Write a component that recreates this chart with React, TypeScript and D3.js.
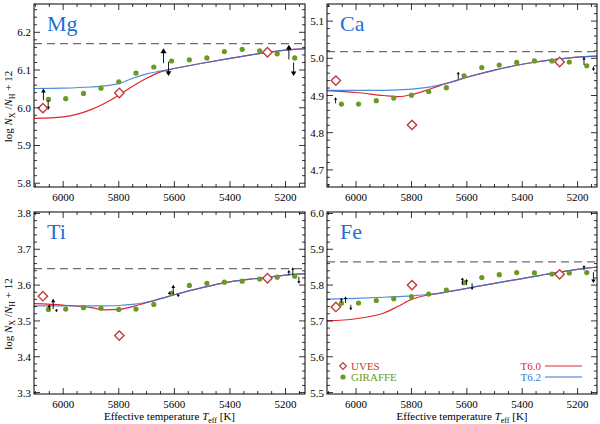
import React, { useEffect, useRef } from "react";
import * as d3 from "d3";

// Teff of the GIRAFFE bins and the three UVES stars
const giraffeTeff = [6053, 5991, 5927, 5864, 5800, 5738, 5674, 5610, 5546, 5483, 5420, 5356, 5293, 5230, 5167];
const uvesTeff = [6073, 5798, 5265];
// model curve sampling (T6.0 / T6.2)
const modelTeff = [6105, 6000, 5900, 5850, 5800, 5750, 5700, 5650, 5600, 5500, 5400, 5300, 5200, 5130];

const mgGiraffe = [6.022, 6.024, 6.038, 6.052, 6.069, 6.092, 6.108, 6.124, 6.127, 6.132, 6.149, 6.155, 6.151, 6.143, 6.132];
const caGiraffe = [4.877, 4.877, 4.886, 4.893, 4.901, 4.911, 4.921, 4.953, 4.975, 4.982, 4.989, 4.993, 4.993, 4.99, 4.98];
const tiGiraffe = [3.532, 3.533, 3.537, 3.535, 3.532, 3.533, 3.546, 3.577, 3.599, 3.605, 3.608, 3.611, 3.617, 3.622, 3.625];
const feGiraffe = [5.749, 5.75, 5.757, 5.762, 5.768, 5.775, 5.786, 5.807, 5.821, 5.829, 5.835, 5.834, 5.831, 5.834, 5.835];

const mgUves = [5.999, 6.039, 6.147];
const caUves = [4.94, 4.821, 4.99];
const tiUves = [3.569, 3.459, 3.619];
const feUves = [5.739, 5.8, 5.83];

const mgT60 = [5.972, 5.976, 5.995, 6.012, 6.033, 6.057, 6.078, 6.095, 6.104, 6.118, 6.131, 6.143, 6.153, 6.157];
const mgT62 = [6.051, 6.052, 6.055, 6.058, 6.064, 6.078, 6.09, 6.097, 6.104, 6.118, 6.131, 6.143, 6.153, 6.157];
const caT60 = [4.913, 4.908, 4.9, 4.897, 4.902, 4.913, 4.926, 4.937, 4.949, 4.968, 4.984, 4.995, 5.003, 5.006];
const caT62 = [4.914, 4.914, 4.914, 4.915, 4.917, 4.921, 4.928, 4.938, 4.949, 4.968, 4.984, 4.995, 5.003, 5.006];
const tiT60 = [3.548, 3.544, 3.537, 3.531, 3.532, 3.54, 3.551, 3.562, 3.573, 3.593, 3.609, 3.619, 3.628, 3.632];
const tiT62 = [3.542, 3.542, 3.542, 3.542, 3.543, 3.546, 3.552, 3.562, 3.573, 3.593, 3.609, 3.619, 3.628, 3.632];
const feT60 = [5.7, 5.706, 5.722, 5.74, 5.76, 5.771, 5.777, 5.784, 5.791, 5.805, 5.818, 5.832, 5.844, 5.85];
const feT62 = [5.761, 5.763, 5.766, 5.768, 5.77, 5.773, 5.777, 5.784, 5.791, 5.805, 5.818, 5.832, 5.844, 5.85];

// initial (solar-like) abundance, dashed
const mgInit = 6.17;
const caInit = 5.018;
const tiInit = 3.646;
const feInit = 5.865;

// arrows: [Teff, from, to]
const mgArrows = [
  [6071, 6.02, 6.051], [6054, 6.02, 5.994],
  [5639, 6.118, 6.158], [5621, 6.122, 6.084],
  [5188, 6.128, 6.167], [5171, 6.12, 6.084],
];
const caArrows = [
  [6074, 4.879, 4.895], [5631, 4.944, 4.964],
  [5177, 4.982, 5.004], [5143, 4.978, 4.966],
];
const tiArrows = [
  [6036, 3.533, 3.562], [6050, 3.533, 3.546], [6024, 3.533, 3.524],
  [5604, 3.574, 3.601], [5618, 3.574, 3.582], [5586, 3.575, 3.566],
  [5174, 3.628, 3.65], [5188, 3.628, 3.642], [5152, 3.623, 3.604],
];
const feArrows = [
  [6053, 5.752, 5.765], [6038, 5.75, 5.768], [6019, 5.745, 5.73],
  [5616, 5.8, 5.821], [5601, 5.8, 5.817], [5581, 5.805, 5.786],
  [5177, 5.841, 5.856], [5143, 5.836, 5.806],
];

const xTicks = [6000, 5800, 5600, 5400, 5200];

const RED = "#e3262d";
const BLUE = "#2f78d8";
const GREEN = "#6b9a22";
const DIAMOND = "#c23b3b";
const FONT = "'Liberation Serif', 'DejaVu Serif', serif";

const panels = [
  { name: "Mg", left: 34, right: 305, top: 4, bottom: 187, yDom: [5.79, 6.275], yTicks: [5.8, 5.9, 6.0, 6.1, 6.2], gir: mgGiraffe, uv: mgUves, t60: mgT60, t62: mgT62, init: mgInit, arrows: mgArrows, ytitle: true, xtitle: false },
  { name: "Ca", left: 327, right: 597, top: 4, bottom: 187, yDom: [4.654, 5.146], yTicks: [4.7, 4.8, 4.9, 5.0, 5.1], gir: caGiraffe, uv: caUves, t60: caT60, t62: caT62, init: caInit, arrows: caArrows, ytitle: false, xtitle: false },
  { name: "Ti", left: 34, right: 305, top: 212, bottom: 394, yDom: [3.296, 3.804], yTicks: [3.3, 3.4, 3.5, 3.6, 3.7, 3.8], gir: tiGiraffe, uv: tiUves, t60: tiT60, t62: tiT62, init: tiInit, arrows: tiArrows, ytitle: true, xtitle: true },
  { name: "Fe", left: 327, right: 597, top: 212, bottom: 394, yDom: [5.496, 6.004], yTicks: [5.5, 5.6, 5.7, 5.8, 5.9, 6.0], gir: feGiraffe, uv: feUves, t60: feT60, t62: feT62, init: feInit, arrows: feArrows, ytitle: false, xtitle: true, legend: true },
];

const App = () => {
  const ref = useRef<SVGSVGElement>(null);

  useEffect(() => {
    const svg = d3.select(ref.current);
    svg.selectAll("*").remove();
    svg.append("rect").attr("width", 600).attr("height", 424).attr("fill", "#fff");

    panels.forEach((p: any, pi: number) => {
      const x = d3.scaleLinear().domain([6105, 5130]).range([p.left, p.right]);
      const y = d3.scaleLinear().domain(p.yDom).range([p.bottom, p.top]);
      const g = svg.append("g");

      const clipId = "clip" + pi;
      svg
        .append("defs")
        .append("clipPath")
        .attr("id", clipId)
        .append("rect")
        .attr("x", p.left)
        .attr("y", p.top)
        .attr("width", p.right - p.left)
        .attr("height", p.bottom - p.top);
      const inner = g.append("g").attr("clip-path", `url(#${clipId})`);

      // dashed initial abundance
      inner
        .append("line")
        .attr("x1", p.left)
        .attr("x2", p.right)
        .attr("y1", y(p.init))
        .attr("y2", y(p.init))
        .attr("stroke", "#6e6e6e")
        .attr("stroke-width", 1.3)
        .attr("stroke-dasharray", "8,5");

      // model lines
      const line = d3
        .line<number>()
        .x((d, i) => x(modelTeff[i]))
        .y((d) => y(d))
        .curve(d3.curveMonotoneX);
      inner.append("path").attr("d", line(p.t60)).attr("fill", "none").attr("stroke", RED).attr("stroke-width", 1.2);
      inner
        .append("path")
        .attr("d", line(p.t62))
        .attr("fill", "none")
        .attr("stroke", BLUE)
        .attr("stroke-width", 1.2)
        .attr("stroke-opacity", 0.85);

      // GIRAFFE dots
      inner
        .selectAll("circle.gir")
        .data(p.gir)
        .join("circle")
        .attr("cx", (d: any, i: number) => x(giraffeTeff[i]))
        .attr("cy", (d: any) => y(d))
        .attr("r", 2.6)
        .attr("fill", GREEN);

      // arrows
      p.arrows.forEach((a: number[]) => {
        const ax = x(a[0]);
        const y0 = y(a[1]);
        const y1 = y(a[2]);
        const len = Math.abs(y1 - y0);
        const dir = y1 < y0 ? -1 : 1;
        const hw = Math.max(1.6, Math.min(3.2, len * 0.2));
        const hl = Math.max(2.5, Math.min(5, len * 0.33));
        inner
          .append("line")
          .attr("x1", ax)
          .attr("x2", ax)
          .attr("y1", y0)
          .attr("y2", y1 - dir * hl * 0.6)
          .attr("stroke", "#000")
          .attr("stroke-width", 0.9);
        inner
          .append("path")
          .attr("d", `M${ax},${y1}L${ax - hw},${y1 - dir * hl}L${ax + hw},${y1 - dir * hl}Z`)
          .attr("fill", "#000");
      });

      // UVES diamonds
      const diamond = d3.symbol().type(d3.symbolSquare).size(44);
      inner
        .selectAll("path.uv")
        .data(p.uv)
        .join("path")
        .attr("d", diamond as any)
        .attr("transform", (d: any, i: number) => `translate(${x(uvesTeff[i])},${y(d)}) rotate(45)`)
        .attr("fill", "#fff")
        .attr("stroke", DIAMOND)
        .attr("stroke-width", 1.4);

      // frame
      g.append("rect")
        .attr("x", p.left)
        .attr("y", p.top)
        .attr("width", p.right - p.left)
        .attr("height", p.bottom - p.top)
        .attr("fill", "none")
        .attr("stroke", "#000")
        .attr("stroke-width", 1);

      // x ticks (inward, top and bottom)
      const xMinor = d3.range(5150, 6101, 50);
      xMinor.forEach((t) => {
        const major = t % 200 === 0;
        const len = major ? 6 : 3;
        const xx = x(t);
        g.append("line").attr("x1", xx).attr("x2", xx).attr("y1", p.bottom).attr("y2", p.bottom - len).attr("stroke", "#000").attr("stroke-width", 0.8);
        g.append("line").attr("x1", xx).attr("x2", xx).attr("y1", p.top).attr("y2", p.top + len).attr("stroke", "#000").attr("stroke-width", 0.8);
      });
      xTicks.forEach((t) => {
        g.append("text")
          .attr("x", x(t))
          .attr("y", p.bottom + 14)
          .attr("text-anchor", "middle")
          .style("font-family", FONT)
          .style("font-size", "11px")
          .text(t);
      });

      // y ticks (inward, left and right)
      const start = Math.ceil(p.yDom[0] / 0.02 - 1e-6);
      const end = Math.floor(p.yDom[1] / 0.02 + 1e-6);
      d3.range(start, end + 1).forEach((k) => {
        const v = k * 0.02;
        const major = k % 5 === 0;
        const len = major ? 6 : 3;
        const yy = y(v);
        g.append("line").attr("x1", p.left).attr("x2", p.left + len).attr("y1", yy).attr("y2", yy).attr("stroke", "#000").attr("stroke-width", 0.8);
        g.append("line").attr("x1", p.right).attr("x2", p.right - len).attr("y1", yy).attr("y2", yy).attr("stroke", "#000").attr("stroke-width", 0.8);
      });
      p.yTicks.forEach((t: number) => {
        g.append("text")
          .attr("x", p.left - 3)
          .attr("y", y(t) + 4)
          .attr("text-anchor", "end")
          .style("font-family", FONT)
          .style("font-size", "11px")
          .text(t.toFixed(1));
      });

      // element label
      g.append("text")
        .attr("x", p.left + 13)
        .attr("y", p.top + 27)
        .attr("fill", "#1f6fd6")
        .style("font-family", FONT)
        .style("font-size", "22px")
        .text(p.name);

      if (p.ytitle) {
        const cy = (p.top + p.bottom) / 2 + 11;
        const t = g
          .append("text")
          .attr("transform", `translate(12,${cy}) rotate(-90)`)
          .attr("text-anchor", "middle")
          .style("font-family", FONT)
          .style("font-size", "11px");
        t.append("tspan").text("log ");
        t.append("tspan").style("font-style", "italic").text("N");
        t.append("tspan").attr("dy", 2.5).style("font-size", "8px").text("X");
        t.append("tspan").attr("dy", -2.5).text(" /");
        t.append("tspan").style("font-style", "italic").text("N");
        t.append("tspan").attr("dy", 2.5).style("font-size", "8px").text("H");
        t.append("tspan").attr("dy", -2.5).text(" + 12");
      }

      if (p.xtitle) {
        const t = g
          .append("text")
          .attr("x", (p.left + p.right) / 2)
          .attr("y", 420)
          .attr("text-anchor", "middle")
          .style("font-family", FONT)
          .style("font-size", "11px");
        t.append("tspan").text("Effective temperature ");
        t.append("tspan").style("font-style", "italic").text("T");
        t.append("tspan").attr("dy", 2.5).style("font-size", "8px").text("eff");
        t.append("tspan").attr("dy", -2.5).text(" [K]");
      }

      if (p.legend) {
        const lx = p.left + 16;
        const ly = 366;
        g.append("path")
          .attr("d", d3.symbol().type(d3.symbolSquare).size(22)() as any)
          .attr("transform", `translate(${lx},${ly}) rotate(45)`)
          .attr("fill", "#fff")
          .attr("stroke", DIAMOND)
          .attr("stroke-width", 1.2);
        g.append("text").attr("x", lx + 8).attr("y", ly + 4).attr("fill", DIAMOND).style("font-family", FONT).style("font-size", "11px").text("UVES");
        g.append("circle").attr("cx", lx).attr("cy", ly + 11).attr("r", 2.6).attr("fill", GREEN);
        g.append("text").attr("x", lx + 8).attr("y", ly + 15).attr("fill", GREEN).style("font-family", FONT).style("font-size", "11px").text("GIRAFFE");

        const rx = p.right - 15;
        g.append("line").attr("x1", rx - 37).attr("x2", rx).attr("y1", ly).attr("y2", ly).attr("stroke", RED).attr("stroke-width", 1.2);
        g.append("text").attr("x", rx - 41).attr("y", ly + 4).attr("text-anchor", "end").attr("fill", RED).style("font-family", FONT).style("font-size", "11px").text("T6.0");
        g.append("line").attr("x1", rx - 37).attr("x2", rx).attr("y1", ly + 11).attr("y2", ly + 11).attr("stroke", BLUE).attr("stroke-width", 1.2);
        g.append("text").attr("x", rx - 41).attr("y", ly + 15).attr("text-anchor", "end").attr("fill", BLUE).style("font-family", FONT).style("font-size", "11px").text("T6.2");
      }
    });
  }, []);

  return (
    <svg
      ref={ref}
      width={600}
      height={424}
      viewBox="0 0 600 424"
      style={{ position: "absolute", left: 0, top: 0 }}
    ></svg>
  );
};

export default App;
